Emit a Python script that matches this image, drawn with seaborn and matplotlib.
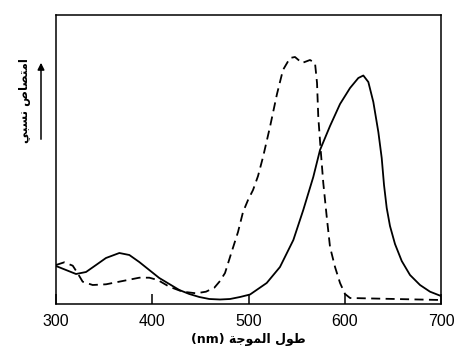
import matplotlib
matplotlib.use("Agg")
import matplotlib.pyplot as plt
import seaborn as sns
import pandas as pd

# Solid curve (wavelength nm, relative absorption)
solid_nm = [300, 310.4, 320.8, 331.2, 341.6, 351.9, 365.8, 376.2, 386.5, 396.9,
            407.3, 417.7, 428.1, 438.5, 448.9, 459.3, 470.4, 480.8, 491.2, 501.6,
            518.9, 532.7, 546.6, 556.9, 567.3, 574.3, 584.7, 595.1, 605.5, 614.1,
            619.3, 624.5, 629.7, 634.9, 638.4, 640.8, 643.6, 647.0, 652.2, 659.2,
            667.8, 678.2, 688.6, 700]
solid_abs = [38, 34, 30, 32, 39, 46, 51, 49, 42, 34,
             26, 20, 14, 10, 7, 5, 4.5, 5, 7, 9.5,
             21, 37, 64, 94, 127, 154, 178, 200, 216, 226,
             228.5, 222, 202, 172, 146, 119, 96, 78, 60, 43,
             29, 19, 12.3, 8]

# Dashed curve
dashed_nm = [300, 308.6, 317.4, 322.5, 327.7, 338.1, 352.0, 369.3, 386.5, 396.9,
             405.7, 417.7, 431.6, 445.5, 455.8, 464.5, 470.4, 475.6, 481.8, 489.1,
             494.3, 499.5, 504.7, 509.9, 515.1, 522.3, 529.6, 535.8, 543.1, 548.3,
             555.6, 563.9, 569.1, 571.2, 572.5, 575.0, 577.7, 581.3, 584.7, 589.9,
             595.1, 600.3, 605.5, 700]
dashed_abs = [39, 41.7, 38.3, 30.7, 22.3, 19, 19.7, 23, 26.3, 26.3,
              24, 17.3, 12.3, 10.7, 12.3, 16.3, 23, 31, 50, 72,
              92, 104, 114, 128, 147, 177, 210, 234, 246, 247,
              241, 244, 241, 221, 187, 154, 121, 87, 57, 37,
              21, 10, 6, 4]

x_ticks = [300, 400, 500, 600, 700]
x_label = "(nm) \uFE94\uFE9F\uFEEE\uFEE4\uFEDF\uFE8D \uFEDD\uFEEE\uFEC3"   # طول الموجة (nm)
y_label = "\uFEF2\uFE92\uFEB4\uFEE7 \uFEB9\uFE8E\uFEBC\uFE98\uFEE3\uFE8D"   # امتصاص نسبي

sns.set_theme(style="white")
plt.rcParams["font.family"] = ["Liberation Sans", "DejaVu Sans"]

fig = plt.figure(figsize=(4.72, 3.54), dpi=100)
ax = fig.add_axes([56/472, 1-304/354, 385/472, 289/354])

df_s = pd.DataFrame({"nm": solid_nm, "a": solid_abs})
df_d = pd.DataFrame({"nm": dashed_nm, "a": dashed_abs})
sns.lineplot(data=df_s, x="nm", y="a", ax=ax, color="black", lw=1.3,
             estimator=None, sort=False)
sns.lineplot(data=df_d, x="nm", y="a", ax=ax, color="black", lw=1.3,
             estimator=None, sort=False)
ax.lines[1].set_dashes([5, 3])
for ln in ax.lines:
    ln.set_solid_joinstyle("round")
    ln.set_dash_joinstyle("round")

ax.set_xlim(300, 700)
ax.set_ylim(0, 289)
ax.set_xticks(x_ticks)
ax.set_xticklabels([str(t) for t in x_ticks], fontsize=11.5)
ax.set_yticks([])
ax.set_xlabel("")
ax.set_ylabel("")
ax.tick_params(axis="x", direction="in", length=7, width=1.1, color="black",
               pad=7, labelcolor="black", bottom=True)
for s in ax.spines.values():
    s.set_visible(True)
    s.set_color("black")
    s.set_linewidth(1.1)

fig.text(248/472, 1-339/354, x_label, ha="center", va="center", fontsize=9,
         fontweight="bold", family=["DejaVu Sans"], color="black")
fig.text(25/472, 1-101/354, y_label, ha="center", va="center", fontsize=8.5,
         fontweight="bold", rotation=90, family=["DejaVu Sans"], color="black")
fig.patches.append(matplotlib.patches.FancyArrowPatch(
    (41/472, 1-142/354), (41/472, 1-60/354), transform=fig.transFigure,
    arrowstyle="-|>", mutation_scale=10, lw=1.1, color="black"))

fig.savefig("out.png", dpi=100)
